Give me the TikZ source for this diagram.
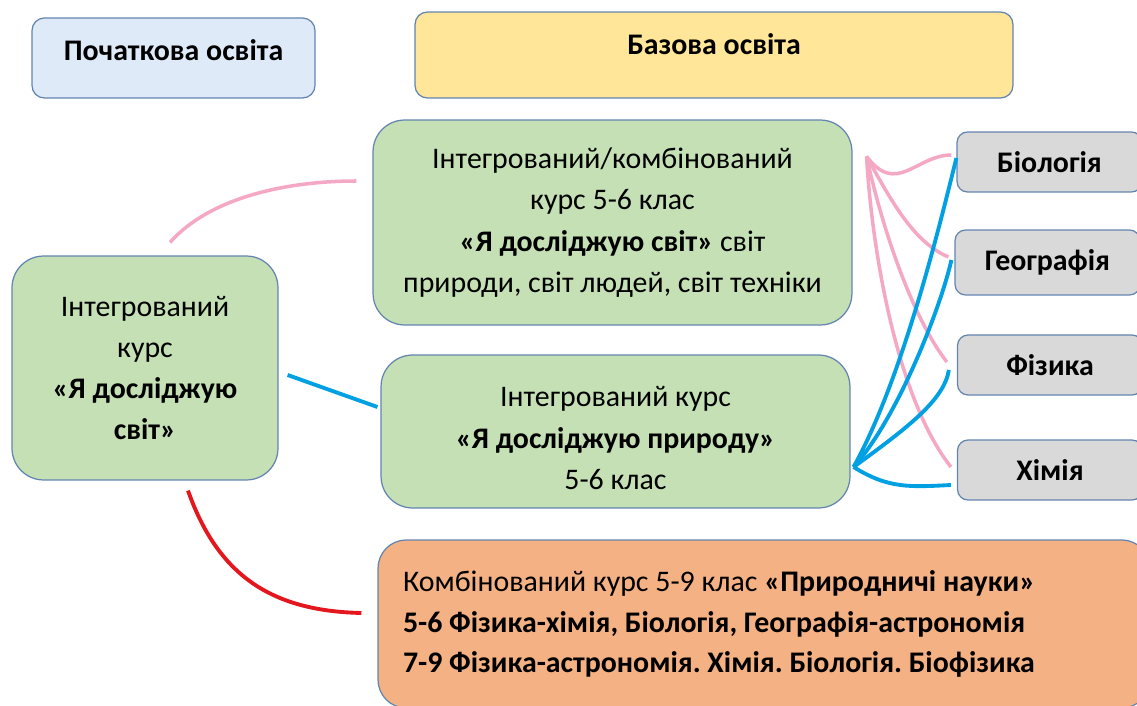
\documentclass[tikz,border=0pt]{standalone}
\usepackage{fontspec}
\setmainfont{Carlito}
\frenchspacing
\usetikzlibrary{positioning,calc}
\definecolor{boxbdr}{RGB}{98,132,176}
\definecolor{hdrblue}{RGB}{222,234,247}
\definecolor{hdryel}{RGB}{255,230,153}
\definecolor{grnfill}{RGB}{197,224,180}
\definecolor{greyfill}{RGB}{217,217,217}
\definecolor{orfill}{RGB}{244,177,131}
\definecolor{pinkclr}{RGB}{245,168,196}
\definecolor{blueclr}{RGB}{0,160,227}
\definecolor{redclr}{RGB}{228,23,30}
\tikzset{
  %% heading block (top row)
  hdrblk/.style={rectangle,rounded corners=7pt,draw=boxbdr,line width=0.7pt,
    fill=#1,font=\fontsize{17}{21}\selectfont\bfseries,align=center,inner sep=0pt},
  %% green course block
  grnblk/.style={rectangle,rounded corners=18pt,draw=boxbdr,line width=0.7pt,
    fill=grnfill,font=\fontsize{17}{23.5}\selectfont,align=center,inner sep=0pt},
  %% grey subject block
  subjblk/.style={rectangle,rounded corners=6pt,draw=boxbdr,line width=0.7pt,
    fill=greyfill,font=\fontsize{17}{21}\selectfont\bfseries,align=center,
    minimum width=3.7cm,inner sep=0pt},
  %% orange combined course block
  orblk/.style={rectangle,rounded corners=16pt,draw=boxbdr,line width=0.7pt,
    fill=orfill,font=\fontsize{17}{23}\selectfont,align=flush left,inner xsep=0.5cm},
  %% connectors
  pln/.style={line width=2pt,color=pinkclr},
  bln/.style={line width=2.2pt,color=blueclr},
  rln/.style={line width=2.2pt,color=redclr},
}

\begin{document}
\begin{tikzpicture}[x=0.02cm,y=-0.02cm]
  \useasboundingbox (0,0) rectangle (1137,706);
  \clip (0,0) rectangle (1137,706);

  %% heading row
  \node[hdrblk=hdrblue,minimum width=5.66cm,minimum height=1.6cm,text depth=0.3cm] (poch) at (173.5,58)
    {Початкова освіта};
  \node[hdrblk=hdryel,minimum width=11.96cm,minimum height=1.72cm,text depth=0.45cm] (baz) at (714,55)
    {Базова освіта};

  %% course blocks
  \node[grnblk,minimum width=5.32cm,minimum height=4.48cm] (lg) at (145,368)
    {Інтегрований\\курс\\\textbf{«Я досліджую}\\\textbf{світ»}};
  \node[grnblk,minimum width=9.58cm,minimum height=4.1cm] (tg) at (612.5,222.5)
    {Інтегрований/комбінований\\курс 5-6 клас\\\textbf{«Я досліджую світ»} світ\\природи, світ людей, світ техніки};
  \node[grnblk,minimum width=9.38cm,minimum height=3.06cm] (mg) at (615.5,431.5)
    {\\[-0.15cm]Інтегрований курс\\\textbf{«Я досліджую природу»}\\5-6 клас};
  \node[orblk,text width=14.44cm,minimum height=3.36cm] (nat) at (764,624)
    {Комбінований курс 5-9 клас \textbf{«Природничі науки»}\\
     \textbf{5-6 Фізика-хімія, Біологія, Географія-астрономія}\\
     \textbf{7-9 Фізика-астрономія. Хімія. Біологія. Біофізика}};

  %% subjects
  \node[subjblk,minimum height=1.2cm] (bio) at (1049.5,162) {Біологія};
  \node[subjblk,minimum height=1.3cm] (geo) at (1047.5,262.5) {Географія};
  \node[subjblk,minimum height=1.2cm] (fiz) at (1050,365) {Фізика};
  \node[subjblk,minimum height=1.2cm] (him) at (1050,470) {Хімія};

  %% links from the primary course
  \draw[pln] ([shift={(25,-13)}]lg.north) .. controls +(40,-45) and +(-70,0) .. ([shift={(-16,-41.5)}]tg.west);
  \draw[bln] ([shift={(9,7)}]lg.east) -- ([shift={(-3,-24.5)}]mg.west);
  \draw[rln] ([shift={(43,10)}]lg.south) .. controls +(30,85) and +(-90,-2) .. ([shift={(-16,-11)}]nat.west);

  %% pink fan
  \coordinate (pfan) at ([shift={(14,37)}]tg.north east);
  \draw[pln] (pfan) .. controls +(30,40) and +(-35,0) .. ([shift={(-5,-7)}]bio.west);
  \draw[pln] (pfan) .. controls +(25,45) and +(-35,-15) .. ([shift={(-6,-5.5)}]geo.west);
  \draw[pln] (pfan) .. controls +(15,70) and +(-35,-45) .. ([shift={(-10,-3)}]fiz.west);
  \draw[pln] (pfan) .. controls +(5,90) and +(-55,-70) .. ([shift={(-6,-3)}]him.west);

  %% blue fan
  \coordinate (bfan) at ([shift={(3,35.5)}]mg.east);
  \draw[bln] (bfan) .. controls +(50,-90) and +(-15,60) .. ([shift={(0,-4)}]bio.west);
  \draw[bln] (bfan) .. controls +(45,-50) and +(-10,45) .. ([shift={(-3,-2.5)}]geo.west);
  \draw[bln] (bfan) .. controls +(55,-40) and +(-5,30) .. ([shift={(-8,5)}]fiz.west);
  \draw[bln] (bfan) .. controls +(35,22) and +(-40,2) .. ([shift={(-6,15)}]him.west);
\end{tikzpicture}
\end{document}
